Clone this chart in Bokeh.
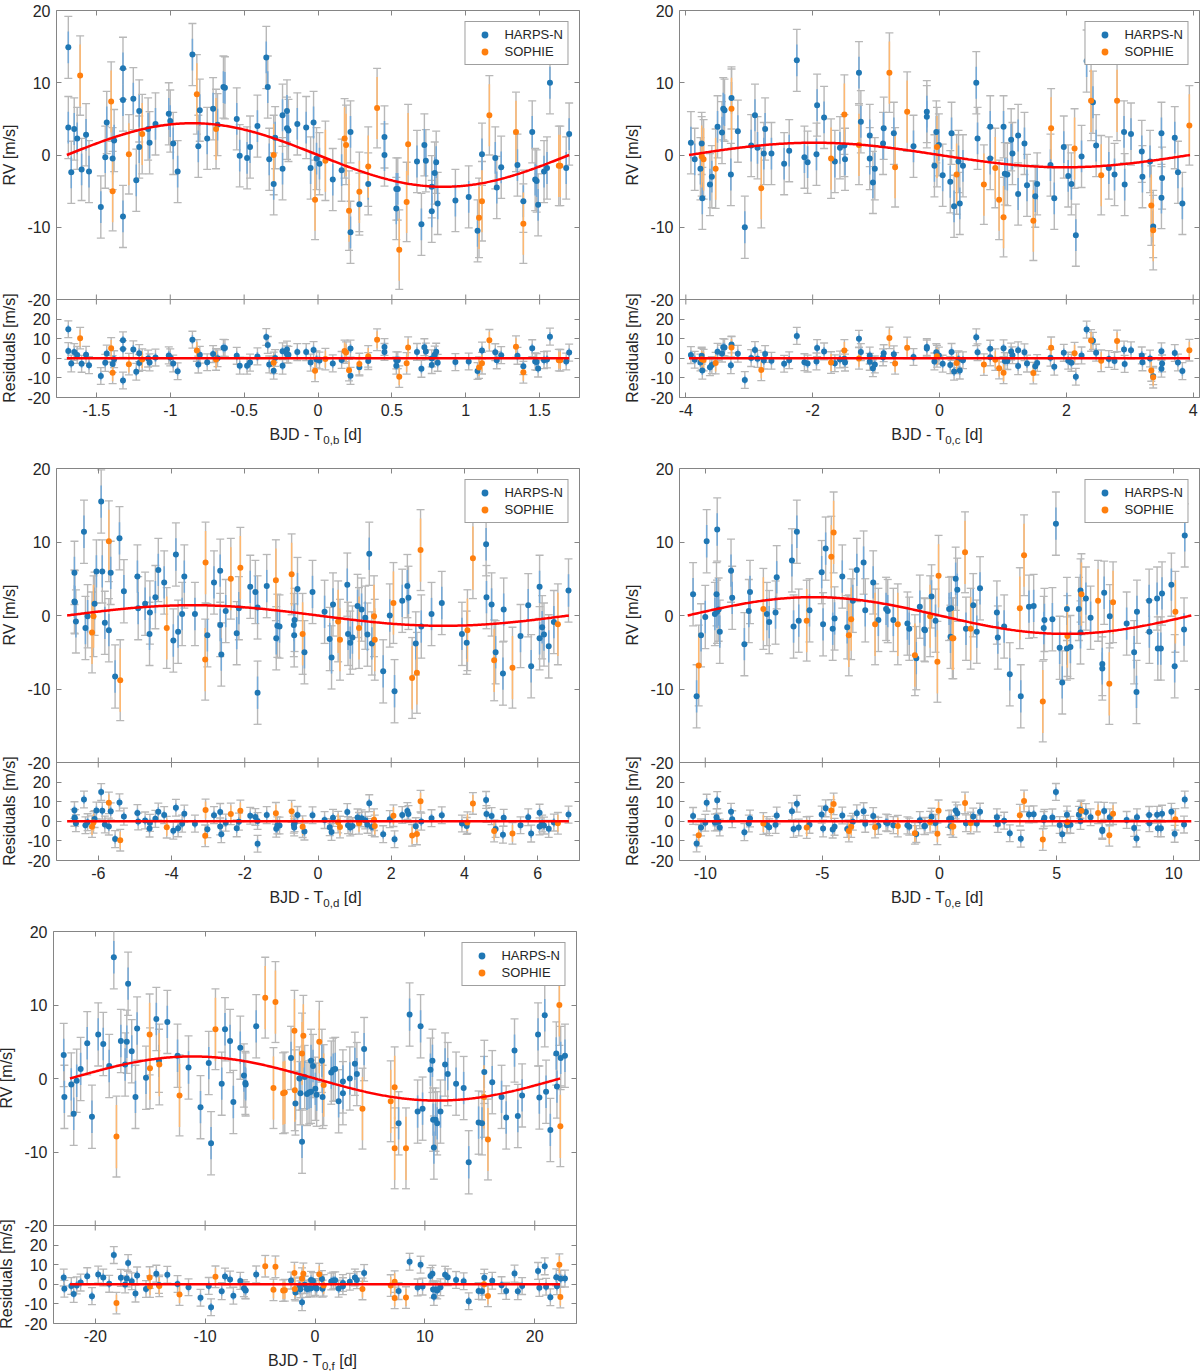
import numpy as np
from bokeh.plotting import figure
from bokeh.models import (Range1d, LinearAxis, FixedTicker, Legend, LegendItem, Div,
                          CustomJSTickFormatter, Span)
from bokeh.layouts import column, row
from bokeh.embed import file_html
from bokeh.resources import INLINE

# ---------------- data ----------------
# (phase [d], RV [m/s]) pairs
B_HARPS = [(-1.69,14.9),(-1.69,3.8),(-1.67,-2.4),(-1.65,3.6),(-1.63,2.3),(-1.60,-2.0),(-1.57,2.8),(-1.55,-2.3),
           (-1.47,-7.2),(-1.44,-0.3),(-1.43,4.5),(-1.39,-0.5),(-1.38,2.0),(-1.32,12.0),(-1.32,7.6),(-1.32,-8.5),
           (-1.25,7.8),(-1.23,-3.5),(-1.21,6.1),(-1.21,1.1),(-1.15,3.6),(-1.14,1.7),(-1.10,4.3),(-1.01,5.7),
           (-1.00,4.7),(-0.98,1.6),(-0.95,-2.3),(-0.85,13.9),(-0.81,1.2),(-0.80,6.2),(-0.75,2.3),(-0.71,6.4),
           (-0.68,4.2),(-0.64,9.4),(-0.63,9.3),(-0.55,5.0),(-0.53,-0.1),(-0.48,-0.4),(-0.46,1.1),(-0.41,4.0),
           (-0.35,13.5),(-0.34,9.4),(-0.33,-0.6),(-0.30,-4.0),(-0.29,2.4),(-0.24,-1.9),(-0.24,5.5),(-0.21,6.1),
           (-0.21,3.7),(-0.20,3.4),(-0.14,4.3),(-0.08,3.8),(-0.05,-1.8),(-0.03,4.5),(-0.01,-0.5),(0.01,-1.2),
           (0.10,-3.4),(0.16,-2.1),(0.22,3.2),(0.22,-10.7),(0.28,-6.8),(0.34,-4.0),(0.45,2.5),(0.45,0.0),
           (0.53,-4.7),(0.54,-4.7),(0.53,-7.4),(0.67,-0.9),(0.70,-9.6),(0.72,1.4),(0.73,-0.8),(0.77,-4.4),
           (0.77,-7.8),(0.79,-2.5),(0.80,-1.0),(0.81,-6.7),(0.93,-6.3),(1.02,-5.8),(1.08,-10.5),(1.11,0.1),
           (1.20,-0.4),(1.21,-4.5),(1.24,-1.7),(1.35,-1.4),(1.39,-6.4),(1.45,3.2),(1.47,-3.4),(1.48,-3.6),
           (1.49,-6.9),(1.53,-2.3),(1.55,-1.8),(1.57,10.0),(1.68,-1.8),(1.70,2.9)]
B_SOPHIE = [(-1.61,11.0),(-1.40,7.4),(-1.39,-5.0),(-1.28,0.1),(-1.19,2.9),(-0.82,8.4),(-0.69,3.6),(-0.30,0.0),
            (-0.02,-6.2),(0.05,-0.8),(0.18,2.3),(0.19,1.4),(0.21,-7.7),(0.28,-5.1),(0.34,-1.6),(0.40,6.5),
            (0.55,-13.1),(0.60,-6.5),(0.61,1.5),(1.09,-8.7),(1.11,-6.4),(1.16,5.5),(1.34,3.2),(1.39,-9.5),
            (1.63,-1.5),(1.64,-1.5)]

C_HARPS = [(-3.92,1.7),(-3.86,-0.6),(-3.77,-1.9),(-3.75,1.6),(-3.74,-6.0),(-3.62,-4.1),(-3.59,-3.0),(-3.50,3.9),
           (-3.43,3.1),(-3.41,6.4),(-3.39,6.2),(-3.29,-2.7),(-3.28,7.9),(-3.18,3.3),(-3.07,-10.0),(-2.97,1.3),
           (-2.91,5.5),(-2.87,1.0),(-2.77,0.2),(-2.75,3.6),(-2.65,0.2),(-2.45,-1.2),(-2.37,0.6),(-2.25,13.1),
           (-2.13,-0.3),(-2.08,-1.0),(-1.94,0.1),(-1.93,6.9),(-1.82,5.2),(-1.65,-0.9),(-1.57,1.0),(-1.50,1.3),
           (-1.49,-0.6),(-1.27,11.4),(-1.24,4.6),(-1.10,2.7),(-1.10,-0.5),(-1.05,-3.8),(-1.02,-1.9),(-0.88,3.7),
           (-0.89,1.6),(-0.72,3.0),(-0.41,1.2),(-0.20,6.0),(-0.20,5.3),(-0.08,-1.5),(-0.05,3.2),(-0.01,1.4),
           (0.05,-2.8),(0.17,-3.7),(0.19,3.0),(0.23,-7.1),(0.30,-0.9),(0.32,-6.7),(0.37,-1.5),(0.58,10.0),
           (0.60,2.3),(0.80,-0.5),(0.80,3.9),(1.01,3.9),(1.03,-2.6),(1.07,-2.7),(1.13,2.1),(1.15,0.2),
           (1.24,2.7),(1.24,-5.4),(1.34,1.6),(1.38,-4.2),(1.51,-5.7),(1.54,-4.0),(1.75,-1.4),(1.81,-6.0),
           (1.96,1.1),(2.03,-2.9),(2.08,-4.0),(2.15,-11.1),(2.24,-0.2),(2.32,13.0),(2.42,7.3),(2.47,1.3),
           (2.67,-1.8),(2.76,-2.7),(2.92,-4.1),(2.91,3.2),(3.02,2.9),(3.19,0.5),(3.20,-3.0),(3.32,-0.9),
           (3.37,-9.9),(3.50,3.0),(3.51,-3.2),(3.50,-5.9),(3.71,2.4),(3.76,-2.4),(3.83,-6.7)]
C_SOPHIE = [(-3.75,-0.2),(-3.72,-0.6),(-3.53,-1.9),(-3.28,6.4),(-2.81,-4.6),(-1.71,-0.5),(-1.50,5.6),(-1.27,1.4),
            (-0.79,11.4),(-0.70,-1.7),(-0.51,6.0),(-0.04,1.1),(0.27,-2.7),(0.70,-4.1),(0.88,-1.8),(0.94,-6.2),
            (1.01,-8.6),(1.48,-9.1),(1.76,3.7),(2.13,0.9),(2.39,7.5),(2.55,-2.8),(2.80,7.5),(3.34,-7.0),
            (3.37,-10.4),(3.94,4.1)]

D_HARPS = [(-6.65,5.8),(-6.65,1.9),(-6.64,1.8),(-6.61,-0.8),(-6.39,11.4),(-6.35,-1.7),(-6.29,-0.1),(-6.10,1.6),
           (-6.05,6.0),(-5.92,15.5),(-5.89,6.0),(-5.82,-1.0),(-5.71,-2.0),(-5.66,5.8),(-5.54,-8.3),(-5.42,10.5),
           (-5.30,3.3),(-4.93,5.3),(-4.91,1.0),(-4.72,1.6),(-4.59,0.4),(-4.60,-2.5),(-4.44,2.5),(-4.36,6.2),
           (-4.20,4.5),(-3.95,-3.4),(-3.88,8.3),(-3.82,-2.2),(-3.71,0.2),(-3.65,5.3),(-3.36,0.2),(-3.02,-2.7),
           (-2.84,4.5),(-2.67,6.1),(-2.67,-1.3),(-2.64,-5.3),(-2.52,0.6),(-2.22,-2.4),(-2.16,1.0),(-1.85,3.9),
           (-1.71,3.2),(-1.65,1.1),(-1.65,-10.5),(-1.40,4.0),(-1.14,-3.1),(-1.11,-1.4),(-1.05,-1.5),(-0.66,-1.3),
           (-0.65,-2.7),(-0.64,-0.6),(-0.56,3.6),(-0.37,-5.0),(-0.15,3.2),(0.18,0.5),(0.32,-3.2),(0.37,-5.7),
           (0.41,1.5),(0.80,4.2),(0.82,-2.5),(0.88,-3.7),(0.94,-3.0),(1.08,1.3),(1.19,0.8),(1.29,-0.3),
           (1.35,-2.6),(1.40,8.4),(1.47,-3.8),(1.78,-7.6),(1.96,0.0),(2.09,-10.3),(2.30,2.0),(2.44,4.0),
           (2.47,2.4),(2.67,-3.8),(2.82,-1.5),(3.10,0.2),(3.38,1.7),(3.93,-2.5),(4.06,-3.7),(4.59,9.7),
           (4.60,2.5),(4.74,1.5),(4.85,-5.0),(5.05,-7.9),(5.07,0.8),(5.53,-2.8),(5.74,1.4),(5.82,-6.9),
           (6.05,-3.1),(6.05,3.9),(6.12,-1.6),(6.17,-2.6),(6.30,-4.2),(6.44,-0.9),(6.84,3.4)]
D_SOPHIE = [(-6.17,-2.3),(-6.13,-0.1),(-5.71,10.1),(-5.40,-8.8),(-4.13,-1.7),(-3.07,7.2),(-3.08,-6.0),(-2.38,5.0),
            (-2.12,6.5),(-1.15,4.8),(-0.72,5.6),(-0.42,-2.5),(0.55,-0.8),(0.60,-3.3),(1.12,-1.7),(1.53,-0.1),
            (1.55,-3.3),(2.06,1.7),(2.57,-8.5),(2.70,-7.8),(2.80,8.9),(4.08,-2.0),(4.23,7.8),(4.81,-6.1),
            (5.31,-7.1),(6.55,-1.2)]

E_HARPS = [(-10.52,2.9),(-10.37,-11.0),(-10.18,-2.7),(-10.00,-0.2),(-9.94,10.1),(-9.59,0.2),(-9.52,2.9),(-9.49,11.7),
           (-9.50,0.5),(-9.43,0.8),(-9.38,-2.2),(-8.90,6.1),(-8.85,2.4),(-8.33,-3.9),(-8.14,0.6),(-8.09,3.2),
           (-7.37,0.2),(-7.27,-0.9),(-7.00,0.4),(-6.95,5.2),(-6.30,7.5),(-6.23,-1.5),(-6.09,11.4),(-6.01,-0.7),
           (-5.55,0.7),(-5.03,5.9),(-4.97,-1.2),(-4.86,9.1),(-4.56,-1.8),(-4.48,-0.4),(-4.15,5.3),(-3.94,-1.6),
           (-3.70,2.0),(-3.53,6.2),(-3.24,7.2),(-3.17,0.7),(-2.83,4.5),(-2.61,-0.6),(-2.28,0.9),(-2.21,0.6),
           (-1.97,-0.6),(-1.37,-1.1),(-1.29,-1.8),(-0.99,-5.8),(-0.84,1.2),(-0.65,-1.9),(-0.62,-2.0),(-0.34,2.6),
           (-0.17,-0.7),(0.41,0.9),(0.47,-2.9),(0.50,1.0),(0.69,5.0),(0.76,3.5),(1.13,-1.8),(1.44,1.4),
           (1.59,-2.2),(1.73,3.7),(2.45,0.4),(2.49,-3.0),(2.76,-1.5),(3.00,-8.0),(3.47,-11.0),(3.82,1.2),
           (4.02,1.3),(4.45,-1.7),(4.48,-0.6),(4.82,-0.5),(4.97,12.5),(5.13,-4.4),(5.24,-9.1),(5.44,0.9),
           (5.44,-4.5),(5.59,-4.3),(5.95,0.9),(6.02,3.4),(6.02,-2.3),(6.25,2.3),(6.45,-0.3),(6.95,-6.6),
           (6.95,-7.2),(7.03,3.1),(7.27,-0.1),(7.99,-1.1),(8.31,-5.0),(8.43,0.5),(8.41,-10.4),(8.95,2.0),
           (8.96,-2.2),(9.29,2.3),(9.32,-4.5),(9.45,-4.5),(9.50,3.0),(9.90,4.2),(10.04,-6.9),(10.44,-1.9),
           (10.47,10.9)]
E_SOPHIE = [(-10.28,-6.8),(-7.52,0.9),(-5.67,-0.7),(-4.62,8.0),(-4.52,11.3),(-3.87,-2.7),(-3.77,-0.5),(-2.75,-1.2),
            (-1.78,-1.2),(-1.05,-5.4),(-0.40,-0.1),(-0.09,-6.3),(-0.04,5.4),(0.55,-3.1),(0.59,-3.1),(1.09,8.6),
            (1.33,-1.8),(3.43,1.0),(3.61,8.2),(4.41,-11.7),(5.46,-2.8),(6.06,2.9),(6.77,2.0),(7.25,-9.3),
            (7.41,1.8),(10.07,0.5)]

F_HARPS = [(-22.87,3.2),(-22.81,-2.5),(-22.18,-0.8),(-21.96,-4.8),(-21.69,-0.3),(-21.33,1.3),(-20.73,4.8),(-20.30,-5.2),
           (-19.73,6.0),(-19.27,4.7),(-18.73,1.7),(-18.31,16.5),(-17.67,5.1),(-17.28,1.9),(-17.13,5.0),(-17.01,12.9),
           (-16.68,3.7),(-16.34,-2.5),(-16.19,6.8),(-15.38,0.1),(-14.44,8.1),(-14.20,2.4),(-13.44,7.7),(-12.51,3.1),
           (-11.51,1.5),(-10.42,-3.9),(-9.67,2.1),(-9.46,-8.8),(-8.49,-0.7),(-8.19,6.7),(-7.73,5.1),(-7.43,-3.2),
           (-6.80,4.2),(-6.47,0.4),(-6.34,-0.6),(-6.31,-0.8),(-5.35,7.1),(-2.18,2.8),(-1.78,-3.4),(-1.42,0.0),
           (-1.33,-2.0),(-1.18,-8.6),(-0.94,0.2),(-0.73,-2.1),(-0.54,-1.9),(-0.36,-1.8),(-0.36,2.4),(-0.18,1.7),
           (0.03,-1.4),(0.15,-2.2),(0.63,2.4),(0.69,-2.5),(1.48,0.8),(1.66,1.2),(1.84,1.3),(2.15,-3.1),
           (2.54,-0.4),(2.54,-2.0),(3.17,0.0),(3.63,2.0),(3.81,0.6),(4.47,4.0),(7.61,-6.1),(8.61,8.7),
           (9.34,-4.5),(9.61,7.1),(9.79,-4.1),(10.51,1.2),(10.69,2.4),(10.75,-5.6),(10.82,-9.4),(10.97,-5.6),
           (11.12,-6.1),(11.42,-4.5),(11.84,1.9),(12.08,0.6),(12.84,-0.7),(13.53,-1.3),(13.99,-11.4),(14.89,-6.0),
           (15.20,-6.1),(15.41,0.9),(16.13,-0.5),(16.98,-2.5),(17.40,-5.3),(18.16,3.8),(18.46,-5.1),(18.85,-2.3),
           (20.30,6.0),(20.42,-2.6),(20.91,8.6),(21.03,-1.8),(21.42,-7.0),(21.96,3.4),(22.02,-1.1),(22.36,2.8),
           (22.75,3.1)]
F_SOPHIE = [(-18.07,-7.9),(-15.05,6.0),(-15.02,1.4),(-14.17,1.9),(-12.33,-2.3),(-9.06,6.7),(-4.53,11.0),(-3.78,-1.3),
            (-3.60,10.4),(-2.90,-2.0),(-2.75,-1.9),(-1.87,6.5),(-1.84,-1.6),(-1.18,3.4),(-1.06,5.8),(0.39,5.0),
            (0.79,-0.9),(4.32,-4.1),(6.89,-3.1),(7.25,-1.2),(7.25,-9.5),(8.28,-9.5),(15.38,-2.5),(15.74,-8.3),
            (22.24,10.0),(22.33,-6.5)]

# Keplerian (circular) model: semi-amplitude K [m/s] and period P [d]
PLANET_K = {"b": 4.4, "c": 1.7, "d": 1.4, "e": 2.5, "f": 3.0}
PLANET_P = {"b": 3.40, "c": 7.90, "d": 13.7, "e": 21.5, "f": 44.6}
X_RANGES = {"b": (-1.77, 1.77), "c": (-4.1, 4.1), "d": (-7.14, 7.14), "e": (-11.1, 11.1), "f": (-23.8, 23.8)}
X_TICKS = {"b": [-1.5, -1, -0.5, 0, 0.5, 1, 1.5], "c": [-4, -2, 0, 2, 4], "d": [-6, -4, -2, 0, 2, 4, 6],
           "e": [-10, -5, 0, 5, 10], "f": [-20, -10, 0, 10, 20]}
RV_RANGE = (-20, 20)
RES_RANGE = (-20, 30)
RV_TICKS = [-20, -10, 0, 10, 20]
RES_TICKS = [-20, -10, 0, 10, 20]
LEGEND_LABELS = ["HARPS-N", "SOPHIE"]
Y_LABELS = ["RV [m/s]", "Residuals [m/s]"]

# error bars [m/s]: instrumental (coloured) and with jitter (grey)
ERR_HARPS_INNER, ERR_HARPS_TOTAL = 2.2, 4.3
ERR_SOPHIE_INNER, ERR_SOPHIE_TOTAL = 4.3, 5.5

# ---------------- style ----------------
FONT = "Liberation Sans"
CSS_FONT = "'Liberation Sans',Arial,sans-serif"
TXT = "#262626"
AX = "#858585"
BLUE, BLUE_L = "#1f77b4", "#74a9d8"
ORANGE, ORANGE_L = "#ff7f0e", "#ffb870"
GRAY = "#b8b8b8"
RED = "#ff0000"
RES_PX = 98
FIG_LEFT = 30
BOTTOM = 24

JS = """
let best = 0;
for (let i = 1; i < keys.length; i++) {
  if (Math.abs(keys[i] - tick) < Math.abs(keys[best] - tick)) { best = i; }
}
return labels[best];
"""


def fmt(keys, labels):
    return CustomJSTickFormatter(args=dict(keys=[float(k) for k in keys], labels=list(labels)), code=JS)


def style_axis(ax, keys, labels):
    ax.ticker = FixedTicker(ticks=[float(k) for k in keys])
    ax.major_tick_in = 5
    ax.major_tick_out = 0
    ax.major_tick_line_color = AX
    ax.major_tick_line_width = 1
    ax.minor_tick_line_color = None
    ax.axis_line_color = None
    if labels is None:
        ax.formatter = CustomJSTickFormatter(code="return '';")
        ax.major_label_text_font_size = "0px"
        ax.major_label_standoff = 0
    else:
        ax.formatter = fmt(keys, labels)
        ax.major_label_text_font = FONT
        ax.major_label_text_font_size = "16px"
        ax.major_label_text_color = TXT
        ax.major_label_standoff = 6


def model(x, K, P):
    return -K * np.sin(2 * np.pi * np.asarray(x, dtype=float) / P)


def make_panel(name, harps, sophie, W, FW, R, T, D, RV_PX):
    K, P = PLANET_K[name], PLANET_P[name]
    xr, xticks = X_RANGES[name], X_TICKS[name]
    u_rv = (RV_RANGE[1] - RV_RANGE[0]) / RV_PX
    u_res = (RES_RANGE[1] - RES_RANGE[0]) / RES_PX
    y_start = RV_RANGE[0] - RES_PX * u_rv
    res_end = RES_RANGE[0] + (RV_PX + RES_PX) * u_res

    p = figure(frame_width=FW, frame_height=RV_PX + RES_PX,
               x_range=Range1d(*xr), y_range=Range1d(y_start, RV_RANGE[1]),
               output_backend="svg", toolbar_location=None,
               min_border_left=FIG_LEFT, min_border_right=R, min_border_top=T, min_border_bottom=BOTTOM,
               outline_line_color=AX, outline_line_width=1,
               background_fill_color="white", border_fill_color="white")
    p.extra_y_ranges = {"res": Range1d(RES_RANGE[0], res_end)}
    p.grid.visible = False

    # y tick positions (residual ticks mapped into the main range)
    res_keys = [y_start + (r - RES_RANGE[0]) / u_res * u_rv for r in RES_TICKS]
    ykeys = list(RV_TICKS) + res_keys
    ylabels = [f"{t:g}" for t in RV_TICKS] + [f"{t:g}" for t in RES_TICKS]
    xlabels = [f"{t:g}" for t in xticks]

    style_axis(p.xaxis[0], xticks, xlabels)
    style_axis(p.yaxis[0], ykeys, ylabels)
    top = LinearAxis()
    style_axis(top, xticks, None)
    p.add_layout(top, "above")
    right = LinearAxis()
    style_axis(right, ykeys, None)
    p.add_layout(right, "right")

    # separator between RV and residual panels
    p.add_layout(Span(location=RV_RANGE[0], dimension="width", line_color=AX, line_width=1))
    p.scatter(x=[float(t) for t in xticks], y=[RV_RANGE[0]] * len(xticks), marker="dash",
              angle=np.pi / 2, size=10, line_color=AX, line_width=1)

    sets = []
    for data, ein, etot, col, coll in [(harps, ERR_HARPS_INNER, ERR_HARPS_TOTAL, BLUE, BLUE_L),
                                       (sophie, ERR_SOPHIE_INNER, ERR_SOPHIE_TOTAL, ORANGE, ORANGE_L)]:
        x = np.array([d[0] for d in data], dtype=float)
        y = np.array([d[1] for d in data], dtype=float)
        res = y - model(x, K, P)
        sets.append((x, y, res, ein, etot, col, coll))

    # grey (jitter-included) error bars with caps
    for x, y, res, ein, etot, col, coll in sets:
        for yy, rn in [(y, "default"), (res, "res")]:
            p.segment(x, yy - etot, x, yy + etot, line_color=GRAY, line_width=1.4, y_range_name=rn)
            p.scatter(np.concatenate([x, x]), np.concatenate([yy - etot, yy + etot]), marker="dash",
                      size=8, line_color=GRAY, line_width=1.3, y_range_name=rn)
    # coloured instrumental error bars
    for x, y, res, ein, etot, col, coll in sets:
        for yy, rn in [(y, "default"), (res, "res")]:
            p.segment(x, yy - ein, x, yy + ein, line_color=coll, line_width=1.5, y_range_name=rn)
    # points
    pts = []
    for x, y, res, ein, etot, col, coll in sets:
        r = p.scatter(x, y, size=6, fill_color=col, line_color=None)
        p.scatter(x, res, size=6, fill_color=col, line_color=None, y_range_name="res")
        pts.append(r)

    xs = np.linspace(-P / 2, P / 2, 400)
    p.line(xs, model(xs, K, P), line_color=RED, line_width=2.5)
    p.line([-P / 2, P / 2], [0, 0], line_color=RED, line_width=2.5, y_range_name="res")

    leg = Legend(items=[LegendItem(label=LEGEND_LABELS[0], renderers=[pts[0]]),
                        LegendItem(label=LEGEND_LABELS[1], renderers=[pts[1]])],
                 location="top_right", margin=11, padding=4, spacing=0,
                 glyph_width=30, glyph_height=17, label_height=17, label_standoff=5,
                 label_text_font=FONT, label_text_font_size="13px", label_text_color=TXT,
                 border_line_color="#404040", border_line_width=1,
                 background_fill_color="white", background_fill_alpha=1.0)
    p.add_layout(leg)

    # rotated y-axis titles as HTML text to the left of the figure
    fig_h = T + RV_PX + RES_PX + BOTTOM
    cx = W - 14
    spans = ""
    for txt, cy in [(Y_LABELS[0], T + RV_PX / 2), (Y_LABELS[1], T + RV_PX + RES_PX / 2)]:
        spans += (f'<span style="position:absolute;left:{cx}px;top:{cy}px;white-space:nowrap;'
                  f'transform:translate(-50%,-50%) rotate(-90deg);">{txt}</span>')
    ylab = Div(text=(f'<div style="position:relative;width:{W}px;height:{fig_h}px;'
                     f'font-family:{CSS_FONT};font-size:16px;color:{TXT};line-height:18px;">{spans}</div>'),
               width=W, height=fig_h, margin=(0, 0, 0, 0))

    html = (f'<div style="margin-left:{FIG_LEFT}px;width:{FW}px;text-align:center;'
            f"font-family:{CSS_FONT};font-size:16px;color:{TXT};"
            f'padding-top:5px;line-height:18px;">BJD - T<sub style="font-size:11.5px;">0,{name}</sub> [d]</div>')
    xlab = Div(text=html, width=FIG_LEFT + FW + R, height=D, margin=(0, 0, 0, 0))
    return row(ylab, column(p, xlab, spacing=0), spacing=0)


LEFT = dict(W=24, FW=523, R=4)
RIGHT = dict(W=64, FW=520, R=2)
LEFT_F = dict(W=21, FW=523, R=4)

row1 = row(make_panel("b", B_HARPS, B_SOPHIE, T=10, D=38, RV_PX=289, **LEFT),
           make_panel("c", C_HARPS, C_SOPHIE, T=10, D=38, RV_PX=289, **RIGHT), spacing=0)
row2 = row(make_panel("d", D_HARPS, D_SOPHIE, T=9, D=38, RV_PX=294, **LEFT),
           make_panel("e", E_HARPS, E_SOPHIE, T=9, D=38, RV_PX=294, **RIGHT), spacing=0)
row3 = row(make_panel("f", F_HARPS, F_SOPHIE, T=9, D=22, RV_PX=294, **LEFT_F), spacing=0)
layout = column(row1, row2, row3, spacing=0)

open("out.html", "w").write(file_html(layout, INLINE))
